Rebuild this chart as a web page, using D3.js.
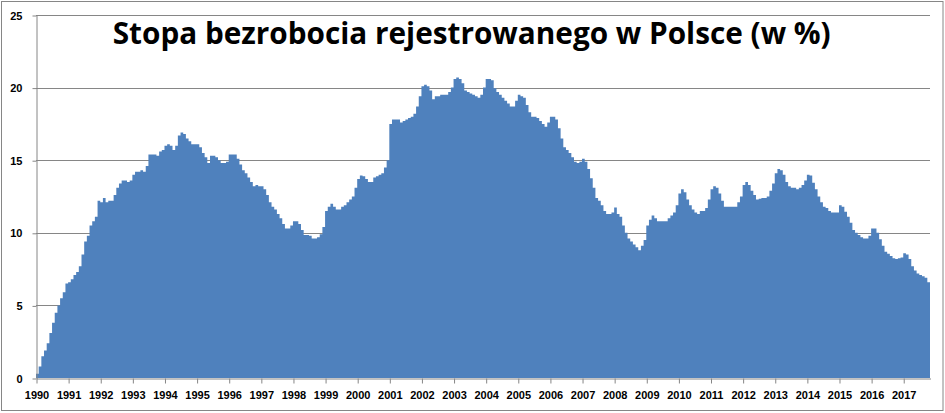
<html>
<script src="https://cdn.jsdelivr.net/npm/d3@7"></script>
<body style="margin:0;background:#fff">

<svg id="chart" width="945" height="413"></svg>

<script>
    // stopa bezrobocia rejestrowanego, dane miesieczne od I 1990 do X 2017
    const years = [1990, 1991, 1992, 1993, 1994, 1995, 1996, 1997, 1998, 1999,
        2000, 2001, 2002, 2003, 2004, 2005, 2006, 2007, 2008, 2009,
        2010, 2011, 2012, 2013, 2014, 2015, 2016, 2017];
    const yTicks = [0, 5, 10, 15, 20, 25];
    const gridValues = [5, 10, 15, 20, 25];
    const rates = [
        0.3, 0.8, 1.5, 1.9, 2.4, 3.1, 3.8, 4.5, 5.0, 5.5, 5.9, 6.5,            // 1990
        6.6, 6.8, 7.1, 7.3, 7.7, 8.5, 9.4, 9.8, 10.5, 10.8, 11.1, 12.2,        // 1991
        12.1, 12.4, 12.1, 12.2, 12.2, 12.6, 13.1, 13.4, 13.6, 13.6, 13.5, 13.6, // 1992
        14.0, 14.2, 14.2, 14.3, 14.2, 14.6, 15.4, 15.4, 15.4, 15.3, 15.6, 15.7, // 1993
        16.0, 16.1, 16.0, 15.7, 16.0, 16.7, 16.9, 16.8, 16.5, 16.3, 16.1, 16.1, // 1994
        16.1, 15.9, 15.5, 15.2, 14.8, 15.3, 15.3, 15.2, 15.0, 14.8, 14.8, 14.9, // 1995
        15.4, 15.4, 15.4, 15.1, 14.7, 14.3, 14.1, 13.8, 13.5, 13.2, 13.3, 13.2, // 1996
        13.2, 13.0, 12.6, 12.1, 11.8, 11.6, 11.3, 11.0, 10.6, 10.3, 10.3, 10.5, // 1997
        10.8, 10.8, 10.6, 10.2, 9.85, 9.85, 9.8, 9.6, 9.6, 9.7, 9.9, 10.4,     // 1998
        11.5, 11.8, 12.0, 11.8, 11.6, 11.6, 11.8, 11.9, 12.1, 12.3, 12.5, 13.1, // 1999
        13.7, 13.95, 13.9, 13.7, 13.5, 13.5, 13.8, 13.9, 14.0, 14.1, 14.5, 15.0, // 2000
        17.5, 17.8, 17.8, 17.8, 17.6, 17.7, 17.8, 17.9, 18.0, 18.2, 18.7, 19.4, // 2001
        20.1, 20.2, 20.1, 19.8, 19.2, 19.4, 19.4, 19.5, 19.5, 19.5, 19.7, 20.0, // 2002
        20.6, 20.7, 20.6, 20.3, 19.8, 19.7, 19.6, 19.5, 19.4, 19.3, 19.5, 20.0, // 2003
        20.6, 20.6, 20.5, 19.95, 19.7, 19.5, 19.3, 19.1, 18.9, 18.7, 18.7, 19.1, // 2004
        19.5, 19.4, 19.3, 18.8, 18.3, 18.0, 18.0, 17.9, 17.7, 17.5, 17.3, 17.6, // 2005
        18.0, 18.0, 17.8, 17.2, 16.5, 15.9, 15.7, 15.5, 15.2, 14.9, 14.8, 14.9, // 2006
        15.1, 14.9, 14.4, 13.75, 13.1, 12.4, 12.2, 11.9, 11.5, 11.3, 11.3, 11.4, // 2007
        11.75, 11.3, 11.1, 10.5, 10.0, 9.6, 9.4, 9.2, 9.0, 8.8, 9.1, 9.5,      // 2008
        10.5, 10.9, 11.2, 11.0, 10.8, 10.8, 10.8, 10.8, 11.0, 11.2, 11.4, 11.9, // 2009
        12.7, 13.0, 12.8, 12.3, 11.9, 11.6, 11.4, 11.3, 11.5, 11.5, 11.7, 12.3, // 2010
        13.0, 13.2, 13.1, 12.7, 12.2, 11.8, 11.8, 11.8, 11.8, 11.8, 12.1, 12.5, // 2011
        13.3, 13.5, 13.3, 12.9, 12.6, 12.3, 12.35, 12.4, 12.4, 12.5, 12.9, 13.4, // 2012
        14.1, 14.4, 14.3, 14.0, 13.5, 13.2, 13.1, 13.1, 13.0, 13.1, 13.3, 13.6, // 2013
        14.0, 13.95, 13.45, 13.0, 12.5, 12.1, 11.8, 11.7, 11.5, 11.4, 11.4, 11.4, // 2014
        11.9, 11.8, 11.45, 11.1, 10.7, 10.2, 10.0, 9.85, 9.7, 9.6, 9.6, 9.8,   // 2015
        10.3, 10.3, 10.0, 9.55, 9.1, 8.7, 8.55, 8.4, 8.25, 8.2, 8.25, 8.3,     // 2016
        8.6, 8.5, 8.2, 7.7, 7.4, 7.2, 7.1, 7.0, 6.9, 6.6                        // 2017
    ];
    const title = "Stopa bezrobocia rejestrowanego w Polsce (w %)";

    let svg = d3.select('#chart');
    let plotLeft = 36, plotRight = 930, plotTop = 15, plotBottom = 378;
    let gray = '#868686';

    //ramka dookola calego wykresu
    svg.append('rect')
        .attr('x', 1.5).attr('y', 1.5)
        .attr('width', 941.5).attr('height', 409)
        .attr('fill', 'white')
        .attr('stroke', gray)
        .attr('stroke-width', 1);

    let x = d3.scaleLinear().domain([0, rates.length]).range([plotLeft, plotRight]);
    let y = d3.scaleLinear().domain([0, 25]).range([plotBottom, plotTop]);

    //linie siatki - pod slupkami
    svg.append('g').selectAll('line').data(gridValues).enter().append('line')
        .attr('x1', plotLeft).attr('x2', plotRight)
        .attr('y1', d => Math.round(y(d)) + 0.5)
        .attr('y2', d => Math.round(y(d)) + 0.5)
        .attr('stroke', gray);

    //slupki bez odstepow -> jeden ksztalt schodkowy, bez szpar miedzy slupkami
    //(ostatni miesiac powtorzony na koncu zeby zamknac ostatni slupek)
    let steps = rates.map((v, i) => [i, v]).concat([[rates.length, rates[rates.length - 1]]]);
    let area = d3.area()
        .x(d => x(d[0]))
        .y0(plotBottom)
        .y1(d => y(d[1]))
        .curve(d3.curveStepAfter);
    svg.append('path')
        .datum(steps)
        .attr('class', 'bars')
        .attr('fill', '#4F81BD')
        .attr('d', area);

    let yAxis = svg.append('g')
        .attr('transform', `translate(${plotLeft + 0.5},0.5)`)
        .call(d3.axisLeft(y).tickValues(yTicks).tickSize(4).tickSizeOuter(0).tickPadding(10));

    let xAxis = svg.append('g')
        .attr('transform', `translate(0.5,${plotBottom + 0.5})`)
        .call(d3.axisBottom(x)
            .tickValues(years.map((yr, k) => k * 12))
            .tickFormat(d => years[d / 12])
            .tickSize(5).tickSizeOuter(0).tickPadding(8));

    [yAxis, xAxis].forEach(ax => {
        ax.selectAll('path, line').attr('stroke', gray);
        ax.selectAll('text')
            .attr('fill', '#000')
            .style('font-family', '"Liberation Sans", Arial, sans-serif')
            .style('font-weight', 'bold')
            .style('font-size', '11px');
    });

    let t = svg.append('text')
        .text(title)
        .attr('x', 471.7)
        .attr('y', 43.5)
        .attr('text-anchor', 'middle')
        .style('font-family', '"Open Sans", sans-serif')
        .style('font-weight', 'bold')
        .style('font-size', '30px')
        .attr('fill', '#000');
    //tytul w oryginale ma ok. 718px szerokosci
    if (Math.abs(t.node().getComputedTextLength() - 718) > 4) {
        t.attr('textLength', 718).attr('lengthAdjust', 'spacingAndGlyphs');
    }
</script>
</body>
</html>
